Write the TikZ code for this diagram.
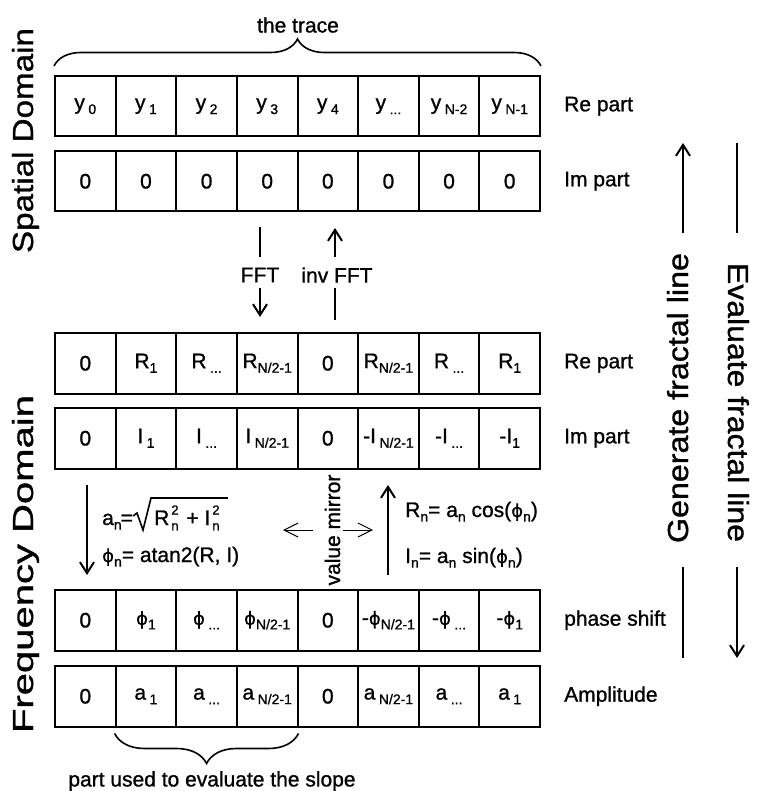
\documentclass[tikz,border=0pt]{standalone}
\usepackage{fontspec}
\setmainfont{Liberation Sans}[FakeBold=1]
\newfontfamily\phifont{DejaVu Sans}[FakeBold=0.6]
\usepackage{graphicx}
\usetikzlibrary{arrows.meta,decorations.pathreplacing,calc}
\newcommand\lowsub[1]{\raisebox{-0.22em}{\fontsize{14}{14}\selectfont #1}}
\newcommand\supsubx[2]{\rlap{\raisebox{0.5em}{\fontsize{13}{13}\selectfont #1}}\raisebox{-0.25em}{\fontsize{13}{13}\selectfont #2}}
\newcommand\ph{{\fontsize{18}{20}\phifont ϕ}}
\begin{document}
\begin{tikzpicture}[x=1pt,y=-1pt,font=\fontsize{21}{25}\selectfont,
  cell/.style={draw,line width=2pt,minimum width=60.625pt,minimum height=60.5pt,inner sep=0pt},
  lbl/.style={anchor=west,inner sep=0pt},
  ln/.style={line width=2pt},
  arr/.style={line width=2pt,-{Straight Barb[length=11pt,width=14pt]}},
  thinarr/.style={line width=1pt,-{Straight Barb[length=14pt,width=14pt]}},
  bigtxt/.style={anchor=base,inner sep=0pt},
  formula/.style={anchor=base west,inner sep=0pt}]
\useasboundingbox (0,0) rectangle (757,791);

% rows of cells
\foreach \t [count=\i] in {y\,\lowsub{0},y\,\lowsub{1},y\,\lowsub{2},y\,\lowsub{3},y\,\lowsub{4},y\,\lowsub{...},y\,\lowsub{N-2},y\,\lowsub{N-1}}
  \node[cell] (r1c\i) at ({55+60.625*(\i-0.5)},106.25) {\t};
\foreach \t [count=\i] in {0,0,0,0,0,0,0,0}
  \node[cell] (r2c\i) at ({55+60.625*(\i-0.5)},181.25) {\t};
\foreach \t [count=\i] in {0,R\lowsub{1},R\,\lowsub{...},R\lowsub{N/2-1},0,R\lowsub{N/2-1},R\,\lowsub{...},R\lowsub{1}}
  \node[cell] (r3c\i) at ({55+60.625*(\i-0.5)},363.25) {\t};
\foreach \t [count=\i] in {0,I\,\lowsub{1},I\,\lowsub{...},I\,\lowsub{N/2-1},0,-I\,\lowsub{N/2-1},-I\,\lowsub{...},-I\lowsub{1}}
  \node[cell] (r4c\i) at ({55+60.625*(\i-0.5)},438.25) {\t};
\foreach \t [count=\i] in {0,\ph\lowsub{1},\ph\,\lowsub{...},\ph\lowsub{N/2-1},0,-\ph\lowsub{N/2-1},-\ph\,\lowsub{...},-\ph\lowsub{1}}
  \node[cell] (r5c\i) at ({55+60.625*(\i-0.5)},620.25) {\t};
\foreach \t [count=\i] in {0,a\,\lowsub{1},a\,\lowsub{...},a\,\lowsub{N/2-1},0,a\,\lowsub{N/2-1},a\,\lowsub{...},a\,\lowsub{1}}
  \node[cell] (r6c\i) at ({55+60.625*(\i-0.5)},696.25) {\t};

% right labels
\node[lbl] (l1) at (564,106.25) {Re part};
\node[lbl] (l2) at (564,181.25) {Im part};
\node[lbl] (l3) at (564,363.25) {Re part};
\node[lbl] (l4) at (564,438.25) {Im part};
\node[lbl] (l5) at (564,620.25) {phase shift};
\node[lbl] (l6) at (564,696.25) {Amplitude};

% braces
\draw[line width=1.6pt,decorate,decoration={brace,amplitude=27pt}]
  ([yshift=9pt]r1c1.north west) -- ([yshift=9pt]r1c8.north east);
\node (trace) at (298,25) {the trace};
\draw[line width=1.6pt,decorate,decoration={brace,amplitude=30pt}]
  ([yshift=-6pt]r6c4.south east) -- ([yshift=-6pt]r6c2.south west);
\node (slope) at (212,781) {part used to evaluate the slope};

% domain titles
\node[bigtxt,rotate=90] (spatial) at (33,140.5) {\resizebox{225pt}{\height}{\fontsize{29}{32}\selectfont Spatial Domain}};
\node[bigtxt,rotate=90] (freq) at (33,564) {\resizebox{338pt}{\height}{\fontsize{29}{32}\selectfont Frequency Domain}};

% generate / evaluate
\node[bigtxt,rotate=90] (gen) at (688,398) {\resizebox{290pt}{\height}{\fontsize{29}{32}\selectfont Generate fractal line}};
\node[bigtxt,rotate=-90] (eva) at (728,402.5) {\resizebox{279pt}{\height}{\fontsize{29}{32}\selectfont Evaluate fractal line}};
\coordinate (genT) at (683,143);
\coordinate (genA) at (683,233);
\coordinate (genB) at (683,567);
\coordinate (genC) at (683,658);
\draw[arr] (genA) -- (genT);
\draw[ln] (genB) -- (genC);
\coordinate (evaT) at (737,143);
\coordinate (evaA) at (737,233);
\coordinate (evaB) at (737,567);
\coordinate (evaC) at (737,658);
\draw[ln] (evaT) -- (evaA);
\draw[arr] (evaB) -- (evaC);

% FFT arrows
\node (fft) at (260,275) {FFT};
\node (ifft) at (337,275) {inv FFT};
\coordinate (fA) at (260,227);
\coordinate (fB) at (260,257);
\coordinate (fC) at (260,288);
\coordinate (fD) at (260,317);
\draw[ln] (fA) -- (fB);
\draw[arr] (fC) -- (fD);
\coordinate (iA) at (335,228);
\coordinate (iB) at (335,257);
\coordinate (iC) at (335,288);
\coordinate (iD) at (335,320);
\draw[arr] (iB) -- (iA);
\draw[ln] (iC) -- (iD);

% formula arrows
\coordinate (dA) at (87,485);
\coordinate (dB) at (87,575);
\draw[arr] (dA) -- (dB);
\coordinate (uA) at (388,575);
\coordinate (uB) at (388,485);
\draw[arr] (uA) -- (uB);

% left formulas
\node[formula] (fan) at (102,525) {a\lowsub{n}\kern-1pt=};
\node[formula] (frad) at (154,525) {R\kern2pt\supsubx{2}{n}\kern2pt\ + I\kern2pt\supsubx{2}{n}};
\draw[line width=1.6pt,line join=miter]
  ($(frad.base west)+(-21,-9)$) -- ($(frad.base west)+(-17,-12)$) --
  ($(frad.base west)+(-11,5)$) -- ($(frad.base west)+(-3,-27)$) --
  ($(frad.base east)+(8,-27)$);
\node[formula] (fphi) at (102,562) {\ph\lowsub{n}= atan2(R, I)};

% right formulas
\node[formula] (fR) at (405,517) {R\lowsub{n}= a\lowsub{n} cos(\ph\lowsub{n})};
\node[formula] (fI) at (405,563) {I\lowsub{n}= a\lowsub{n} sin(\ph\lowsub{n})};

% value mirror
\node[bigtxt,rotate=90] (mirror) at (340,530) {value mirror};
\coordinate (mL0) at (313,530);
\coordinate (mL1) at (283,530);
\coordinate (mR0) at (343,530);
\coordinate (mR1) at (373,530);
\draw[thinarr] (mL0) -- (mL1);
\draw[thinarr] (mR0) -- (mR1);
\end{tikzpicture}
\end{document}
